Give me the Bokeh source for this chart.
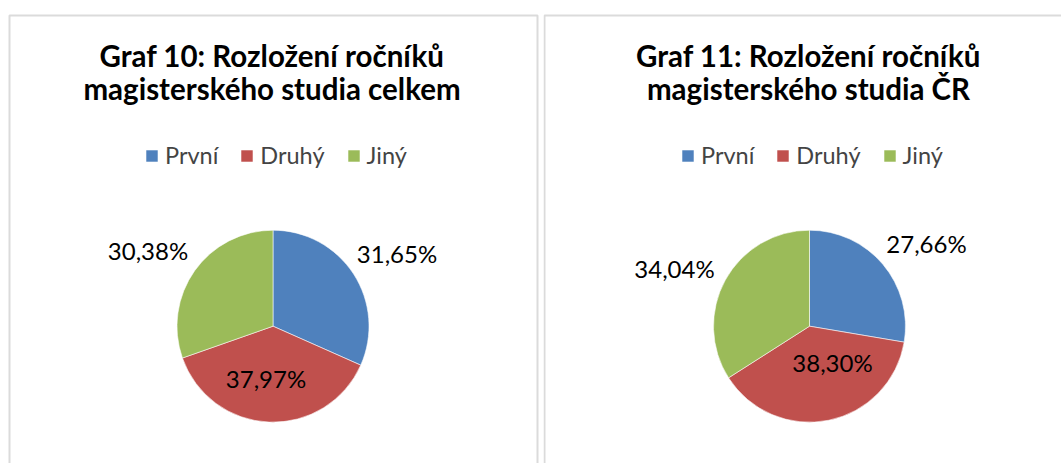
import numpy as np
from bokeh.plotting import figure
from bokeh.models import Range1d, BoxAnnotation, ColumnDataSource, Legend, LegendItem
from bokeh.layouts import row
from bokeh.core.properties import value
from bokeh.embed import file_html
from bokeh.resources import INLINE

# ---------------- data ----------------
categories = ["První", "Druhý", "Jiný"]
values_celkem = [31.65, 37.97, 30.38]
values_cr = [27.66, 38.30, 34.04]
title_celkem = ["Graf 10: Rozložení ročníků", "magisterského studia celkem"]
title_cr = ["Graf 11: Rozložení ročníků", "magisterského studia ČR"]

# ---------------- style / layout ----------------
colors = ["#4F81BD", "#C0504D", "#9BBB59"]
FONT = "Lato"
BORDER = "#878787"
TITLE_SIZE = "29.5px"
LEGEND_SIZE = "23.5px"
LABEL_SIZE = "24px"
RADIUS = 96
H = 463
TEXT_SHIFT = 10  # baseline correction (px, upward)

# label offsets (dx, dy down) relative to pie centre, per slice
offs_celkem = [(124, -63), (-7, 62), (-125, -66)]
offs_cr = [(117, -73), (23, 46), (-135, -48)]


def fmt(v):
    return f"{v:.2f}%".replace(".", ",")


def panel(x0, x1, border_left, border_right, cx, cy, values, title_lines,
          offs, legend_x):
    p = figure(width=x1 - x0, height=H,
               x_range=Range1d(x0, x1), y_range=Range1d(-H, 0),
               output_backend="svg", toolbar_location=None,
               x_axis_location=None, y_axis_location=None,
               min_border=0)
    p.grid.visible = False
    p.outline_line_color = None
    p.background_fill_color = "white"
    p.border_fill_color = "white"

    p.add_layout(BoxAnnotation(left=border_left, right=border_right,
                               top=-15, bottom=-600,
                               fill_alpha=0, line_color=BORDER,
                               line_width=2))

    vals = np.array(values, dtype=float)
    frac = vals / vals.sum()
    cum = np.concatenate([[0], np.cumsum(frac)])
    start = np.pi / 2 - 2 * np.pi * cum[:-1]
    end = np.pi / 2 - 2 * np.pi * cum[1:]
    src = ColumnDataSource(dict(
        cat=categories, start=start, end=end, color=colors,
        x=[cx] * 3, y=[-cy] * 3))
    r = p.wedge(x="x", y="y", radius=RADIUS, start_angle="start",
                end_angle="end", direction="clock", fill_color="color",
                line_color="white", line_width=0.8, line_alpha=0.7,
                source=src)

    # data labels
    lsrc = ColumnDataSource(dict(
        x=[cx + o[0] for o in offs],
        y=[-(cy + o[1]) + TEXT_SHIFT for o in offs],
        t=[fmt(v) for v in values]))
    p.text(x="x", y="y", text="t", source=lsrc,
           text_font=value(FONT), text_font_size=LABEL_SIZE,
           text_align="center", text_baseline="alphabetic",
           text_color="black")

    # title (two lines)
    tsrc = ColumnDataSource(dict(x=[cx - 1, cx - 1],
                                 y=[-65 + TEXT_SHIFT, -98 + TEXT_SHIFT],
                                 t=title_lines))
    p.text(x="x", y="y", text="t", source=tsrc,
           text_font=value(FONT), text_font_size=TITLE_SIZE,
           text_font_style="bold", text_align="center",
           text_baseline="alphabetic", text_color="black")

    legend = Legend(
        items=[LegendItem(label=c, renderers=[r], index=i)
               for i, c in enumerate(categories)],
        orientation="horizontal",
        location=(legend_x, 294),
        glyph_width=15, glyph_height=15,
        label_text_font=FONT, label_text_font_size=LEGEND_SIZE,
        label_standoff=6, spacing=21, padding=0, margin=0,
        label_height=15,
        background_fill_alpha=0, border_line_alpha=0)
    p.add_layout(legend)
    return p


p1 = panel(0, 543, 9, 537, 272.5, 325.7, values_celkem, title_celkem,
           offs_celkem, 144)
p2 = panel(543, 1061, 544, 1072, 809, 325.7, values_cr, title_cr,
           offs_cr, 137)

layout = row(p1, p2)
open("out.html", "w").write(file_html(layout, INLINE))
